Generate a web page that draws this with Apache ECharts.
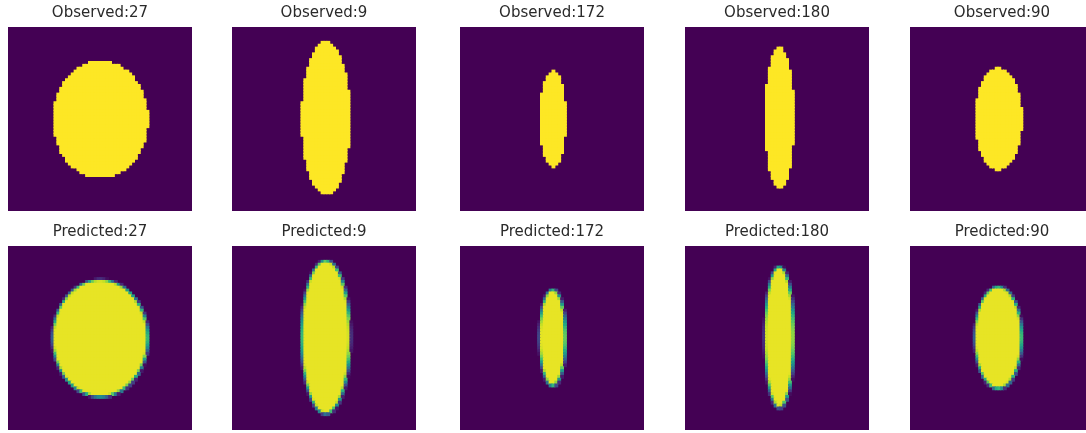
<!DOCTYPE html>
<html>
<head>
<meta charset="utf-8">
<script src="https://cdn.jsdelivr.net/npm/echarts@6/dist/echarts.min.js"></script>
<style>
  html, body { margin: 0; padding: 0; background: #ffffff; }
  #chart { width: 1086px; height: 433px; }
</style>
</head>
<body>
<div id="chart"></div>
<script>
// Each panel is a 64 x 64 mask holding one ellipse.
const gridSize = 64;
const angles = [27, 9, 172, 180, 90];
// Ellipse centre and semi-axes, in cell units.
const centerX = [32.2, 32.7, 32.3, 32.9, 32.2];
const centerY = [32.2, 31.8, 32.0, 31.8, 32.0];
const semiAxisX = [16.5, 8.4, 4.5, 5.0, 8.5];
const semiAxisY = [20.3, 26.6, 16.7, 24.5, 17.7];
// Model output: interior level and width of the soft edge (cells).
const predictedCore = [0.965, 0.965, 0.965, 0.965, 0.965];
const predictedEdge = [1.5, 1.5, 1.5, 1.5, 1.5];

const viridis = ['#440154', '#482475', '#414487', '#355f8d', '#2a788e', '#21918c',
                 '#22a884', '#44bf70', '#7ad151', '#bddf26', '#fde725'];

const panelLeft = [8, 232, 460, 685, 910];
const rowTop = [27, 246];
const panelW = 184, panelH = 184;

function observedMask(k) {
  const out = [];
  for (let j = 0; j < gridSize; j++) {
    for (let i = 0; i < gridSize; i++) {
      const dx = (i + 0.5 - centerX[k]) / semiAxisX[k];
      const dy = (j + 0.5 - centerY[k]) / semiAxisY[k];
      if (dx * dx + dy * dy <= 1) out.push([i, j, 1]);
    }
  }
  return out;
}

function predictedMask(k) {
  const out = [];
  const a = semiAxisX[k], b = semiAxisY[k], w = predictedEdge[k];
  for (let j = 0; j < gridSize; j++) {
    for (let i = 0; i < gridSize; i++) {
      const px = i + 0.5 - centerX[k], py = j + 0.5 - centerY[k];
      const r = Math.sqrt((px / a) ** 2 + (py / b) ** 2);
      if (r < 1e-6) { out.push([i, j, predictedCore[k]]); continue; }
      const gx = px / (a * a) / r, gy = py / (b * b) / r;
      const d = (1 - r) / Math.sqrt(gx * gx + gy * gy); // signed distance to outline
      let t = Math.min(1, Math.max(0, 0.5 + d / w));
      t = t * t * (3 - 2 * t);
      const v = predictedCore[k] * t;
      if (v > 0.03) out.push([i, j, v]);
    }
  }
  return out;
}

const grids = [], xAxes = [], yAxes = [], series = [], texts = [];
for (let row = 0; row < 2; row++) {
  for (let k = 0; k < angles.length; k++) {
    const idx = row * angles.length + k;
    grids.push({
      left: panelLeft[k], top: rowTop[row], width: panelW, height: panelH,
      show: true, backgroundColor: '#440154', borderWidth: 0
    });
    xAxes.push({ type: 'value', gridIndex: idx, min: 0, max: gridSize, show: false });
    yAxes.push({ type: 'value', gridIndex: idx, min: 0, max: gridSize, inverse: true, show: false });
    series.push({
      type: 'custom',
      xAxisIndex: idx, yAxisIndex: idx,
      data: row === 0 ? observedMask(k) : predictedMask(k),
      encode: { x: 0, y: 1 },
      silent: true,
      renderItem: function (params, api) {
        const x = api.value(0), y = api.value(1);
        const p0 = api.coord([x, y]);
        const p1 = api.coord([x + 1, y + 1]);
        const pad = 0.5;
        return {
          type: 'rect',
          shape: {
            x: Math.min(p0[0], p1[0]) - pad,
            y: Math.min(p0[1], p1[1]) - pad,
            width: Math.abs(p1[0] - p0[0]) + 2 * pad,
            height: Math.abs(p1[1] - p0[1]) + 2 * pad
          },
          style: { fill: api.visual('color') }
        };
      }
    });
    // panel title, centred above the image
    texts.push({
      type: 'text',
      x: panelLeft[k] + panelW / 2, y: rowTop[row] - 21,
      style: {
        text: (row === 0 ? 'Observed:' : 'Predicted:') + angles[k],
        fill: '#2a2a2a',
        font: '15px "DejaVu Sans"',
        textAlign: 'center'
      }
    });
  }
}

const chart = echarts.init(document.getElementById('chart'), null, { renderer: 'canvas' });
chart.setOption({
  animation: false,
  backgroundColor: '#ffffff',
  grid: grids,
  xAxis: xAxes,
  yAxis: yAxes,
  visualMap: {
    type: 'continuous', show: false, min: 0, max: 1, dimension: 2,
    inRange: { color: viridis }
  },
  series: series,
  graphic: texts
});
</script>
</body>
</html>
